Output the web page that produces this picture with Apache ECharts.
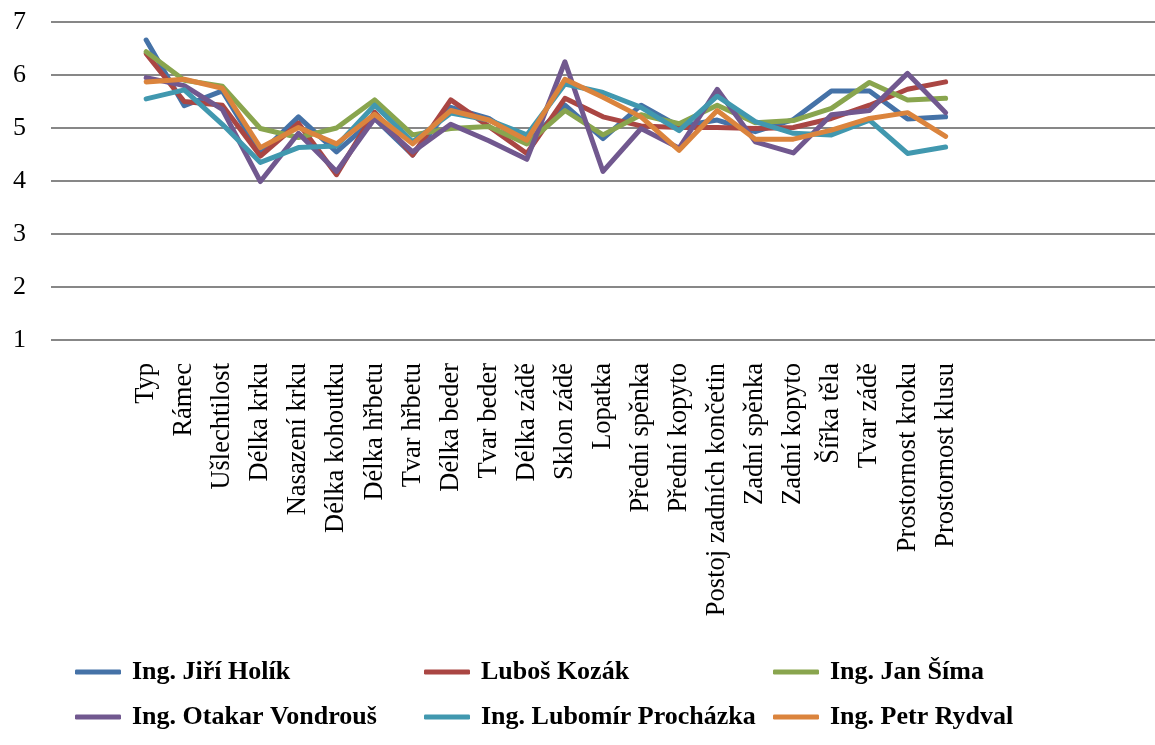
<!DOCTYPE html>
<html>
<head>
<meta charset="utf-8">
<script src="https://cdn.jsdelivr.net/npm/echarts@6/dist/echarts.min.js"></script>
<style>
  html, body { margin: 0; padding: 0; background: #fff; }
  #main { width: 1155px; height: 745px; }
</style>
</head>
<body>
<div id="main"></div>
<script>
// kategorie (hodnocené znaky)
var categories = ['Typ', 'Rámec', 'Ušlechtilost', 'Délka krku', 'Nasazení krku', 'Délka kohoutku',
  'Délka hřbetu', 'Tvar hřbetu', 'Délka beder', 'Tvar beder', 'Délka zádě', 'Sklon zádě',
  'Lopatka', 'Přední spěnka', 'Přední kopyto', 'Postoj zadních končetin', 'Zadní spěnka',
  'Zadní kopyto', 'Šířka těla', 'Tvar zádě', 'Prostornost kroku', 'Prostornost klusu'];

var names = ['Ing. Jiří Holík', 'Luboš Kozák', 'Ing. Jan Šíma',
  'Ing. Otakar Vondrouš', 'Ing. Lubomír Procházka', 'Ing. Petr Rydval'];

var holik      = [6.66, 5.42, 5.70, 4.52, 5.21, 4.55, 5.18, 4.49, 5.39, 5.18, 4.71, 5.43, 4.80, 5.43, 5.03, 5.15, 4.93, 5.16, 5.70, 5.70, 5.17, 5.21];
var kozak      = [6.40, 5.50, 5.43, 4.47, 5.09, 4.12, 5.30, 4.49, 5.53, 5.03, 4.52, 5.56, 5.21, 5.04, 5.01, 5.01, 4.99, 5.01, 5.18, 5.43, 5.73, 5.87];
var sima       = [6.44, 5.90, 5.79, 4.99, 4.82, 5.00, 5.53, 4.87, 4.99, 5.03, 4.70, 5.33, 4.87, 5.25, 5.08, 5.43, 5.10, 5.14, 5.37, 5.86, 5.53, 5.56];
var vondrous   = [5.95, 5.80, 5.35, 3.99, 4.90, 4.18, 5.18, 4.55, 5.07, 4.76, 4.41, 6.25, 4.18, 4.99, 4.62, 5.73, 4.74, 4.53, 5.25, 5.33, 6.03, 5.29];
var prochazka  = [5.55, 5.72, 5.07, 4.35, 4.63, 4.66, 5.43, 4.74, 5.28, 5.15, 4.87, 5.83, 5.67, 5.39, 4.95, 5.60, 5.12, 4.90, 4.87, 5.15, 4.52, 4.64];
var rydval     = [5.87, 5.92, 5.75, 4.63, 5.01, 4.70, 5.26, 4.70, 5.33, 5.15, 4.77, 5.92, 5.58, 5.21, 4.58, 5.33, 4.79, 4.79, 4.96, 5.18, 5.29, 4.84];

var colors = ['#4572A7', '#AA4643', '#89A54E', '#71588F', '#4198AF', '#DB843D'];

// Excel graf ma na ose prazdne kategorie pred a za daty
var padBefore = 2, padAfter = 5;
function pad(arr, fill) {
  var out = [];
  for (var i = 0; i < padBefore; i++) out.push(fill);
  out = out.concat(arr);
  for (var j = 0; j < padAfter; j++) out.push(fill);
  return out;
}

var allData = [holik, kozak, sima, vondrous, prochazka, rydval];
var series = allData.map(function (d, i) {
  return {
    name: names[i],
    type: 'line',
    data: pad(d, null),
    symbol: 'none',
    smooth: false,
    lineStyle: { width: 5, color: colors[i], cap: 'round', join: 'round' },
    itemStyle: { color: colors[i] }
  };
});

var serif = 'Liberation Serif';
function legendCol(left, items) {
  return {
    orient: 'vertical',
    left: left,
    top: 657,
    padding: 0,
    icon: 'roundRect',
    itemWidth: 46,
    itemHeight: 5,
    itemGap: 15,
    data: items,
    textStyle: { fontFamily: serif, fontWeight: 'bold', fontSize: 26, color: '#000', lineHeight: 30, padding: [0, 0, 0, 6] }
  };
}

var chart = echarts.init(document.getElementById('main'));
chart.setOption({
  backgroundColor: '#fff',
  animation: false,
  grid: { left: 51, top: 22, height: 318, width: 29 * 38.4 },
  legend: [
    legendCol(75, [names[0], names[3]]),
    legendCol(424, [names[1], names[4]]),
    legendCol(773, [names[2], names[5]])
  ],
  xAxis: {
    type: 'category',
    data: pad(categories, ''),
    boundaryGap: true,
    axisLine: { show: false },
    axisTick: { show: false },
    axisLabel: { interval: 0, rotate: 90, margin: 23, fontFamily: serif, fontSize: 26.5, color: '#000' }
  },
  yAxis: {
    type: 'value',
    min: 1,
    max: 7,
    interval: 1,
    axisLine: { show: false },
    axisTick: { show: false },
    axisLabel: { margin: 25, fontFamily: serif, fontSize: 26, color: '#000' },
    splitLine: { lineStyle: { color: '#878787', width: 2 } }
  },
  series: series
});
</script>
</body>
</html>
